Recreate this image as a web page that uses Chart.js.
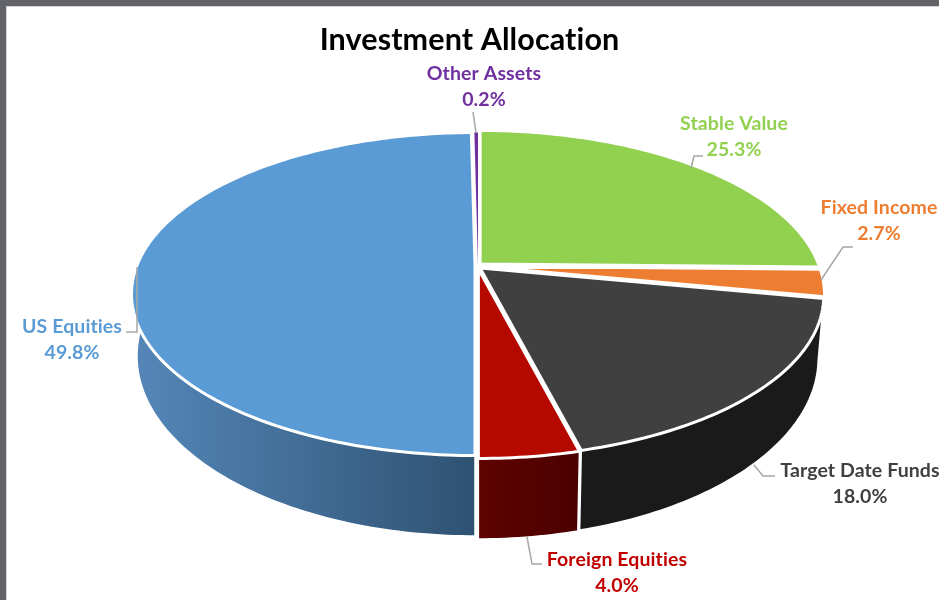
<!DOCTYPE html>
<html>
<head>
<meta charset="utf-8">
<style>
html,body{margin:0;padding:0;background:#fff;width:939px;height:600px;overflow:hidden}
#frame{position:absolute;left:0;top:0;width:939px;height:600px;box-sizing:border-box;border-top:6px solid #636469;border-left:6px solid #636469}
#inner{width:100%;height:100%;box-sizing:border-box;border-top:1px solid #d4d4d6;border-left:1px solid #d4d4d6}
canvas{position:absolute;left:0;top:0}
</style>
<script src="https://cdn.jsdelivr.net/npm/chart.js@4"></script>
</head>
<body>
<div id="frame"><div id="inner"></div></div>
<canvas id="c" width="939" height="600"></canvas>
<script>
const categories = ['Stable Value','Fixed Income','Target Date Funds','Foreign Equities','US Equities','Other Assets'];
const allocation = [25.3,2.7,18.0,4.0,49.8,0.2];
const faceColors = ['#92d050','#ed7d31','#404040','#b50900','#5b9bd5','#7030a0'];
const labelColors = ['#92d050','#ed7d31','#404040','#c00000','#5b9bd5','#7030a0'];

// Projection of the pie disc (tilted, with perspective) and its lower rim
const TOP = {cx:478, cy:294, a:343.5, b:161.5};
const BOTTOM = {cx:478, cy:356, a:338, b:180};
const K = -0.173;
const EXPLODE = 3;
const WALL_FROM = 95*Math.PI/180, WALL_TO = 278*Math.PI/180;
const WALL_STOPS = {
  2:['#1a1a1a','#1a1a1a'],
  3:['#5e0300','#4b0000'],
  4:['#5487b9','#2f5272']
};
// Label centres and leader lines
const labelBoxes = [
  {x:734,y:124,leader:[[703,156],[694,156],[691,168]]},
  {x:879,y:208,leader:[[853,247],[843,247],[821,280]]},
  {x:860,y:471,leader:[[775,476],[763,476],[754,465]]},
  {x:617,y:560,leader:[[542,564],[532,564],[527,537]]},
  {x:72,y:327,leader:[[126,332],[137,332],[137,267]]},
  {x:484,y:74,leader:[[473,112],[476,133]]}
];
const LABEL_FONT = 'bold 19.5px Lato, Carlito, sans-serif';

function project(geo, theta, r, off){
  const u = r*Math.sin(theta), v = -r*Math.cos(theta);
  const d = 1 + K*v;
  const X = u*Math.sqrt(1-K*K)/d, Y = (v+K)/d;
  return [geo.cx + geo.a*X + off[0], geo.cy + geo.b*Y + off[1]];
}
function sample(geo, t0, t1, off){
  const n = Math.max(2, Math.ceil(Math.abs(t1-t0)/(Math.PI/180)));
  const pts = [];
  for(let i=0;i<=n;i++) pts.push(project(geo, t0+(t1-t0)*i/n, 1, off));
  return pts;
}
function trace(ctx, pts, close){
  ctx.beginPath();
  pts.forEach((p,i)=> i?ctx.lineTo(p[0],p[1]):ctx.moveTo(p[0],p[1]));
  if(close) ctx.closePath();
}

const pie3d = {
  id:'pie3d',
  beforeDraw(chart){ chart.ctx.letterSpacing = '0.1px'; },
  beforeDatasetsDraw(chart){
    const ctx = chart.ctx, arcs = chart.getDatasetMeta(0).data;
    const slices = arcs.map((arc,i)=>{
      const t0 = arc.startAngle + Math.PI/2, t1 = arc.endAngle + Math.PI/2, mid=(t0+t1)/2;
      const e = i===5 ? 0 : EXPLODE;
      return {i,t0,t1,off:[e*Math.sin(mid), -e*Math.cos(mid)]};
    });
    ctx.save();
    ctx.lineJoin = 'round';
    // side walls: far side first, nearest last
    [4,2,3].forEach(i=>{
      const s = slices[i];
      const a = Math.max(s.t0, WALL_FROM), b = Math.min(s.t1, WALL_TO);
      const up = sample(TOP,a,b,s.off), low = sample(BOTTOM,a,b,s.off);
      const xs = up.concat(low).map(p=>p[0]);
      const g = ctx.createLinearGradient(Math.min(...xs),0,Math.max(...xs),0);
      g.addColorStop(0,WALL_STOPS[i][0]); g.addColorStop(1,WALL_STOPS[i][1]);
      trace(ctx, up.concat(low.reverse()), true);
      ctx.fillStyle = g; ctx.fill();
      ctx.strokeStyle = '#fff'; ctx.lineWidth = 1.5; ctx.stroke();
    });
    // top faces
    slices.forEach(s=>{
      const c = project(TOP,0,0,s.off);
      const rim = sample(TOP,s.t0,s.t1,s.off);
      trace(ctx,[c].concat(rim),true);
      ctx.fillStyle = faceColors[s.i]; ctx.fill();
      if(s.i!==5){ ctx.strokeStyle='#fff'; ctx.lineWidth=3; ctx.stroke(); }
    });
    // labels and leaders
    ctx.strokeStyle='#a6a6a6'; ctx.lineWidth=1.5; ctx.lineJoin='miter';
    labelBoxes.forEach(l=>{ trace(ctx,l.leader,false); ctx.stroke(); });
    ctx.font = LABEL_FONT; ctx.textAlign='center'; ctx.textBaseline='middle';
    categories.forEach((name,i)=>{
      ctx.fillStyle = labelColors[i];
      ctx.fillText(name, labelBoxes[i].x, labelBoxes[i].y);
      ctx.fillText(allocation[i].toFixed(1)+'%', labelBoxes[i].x, labelBoxes[i].y+26);
    });
    ctx.restore();
    return false;
  }
};

new Chart(document.getElementById('c'),{
  type:'pie',
  data:{labels:categories,datasets:[{data:allocation,backgroundColor:faceColors}]},
  options:{
    responsive:false,animation:false,
    plugins:{
      legend:{display:false},
      tooltip:{enabled:false},
      title:{display:true,text:'Investment Allocation',color:'#000',
        font:{family:'Lato, Carlito, sans-serif',size:30.5,weight:'bold'},
        padding:{top:22,bottom:10}}
    }
  },
  plugins:[pie3d]
});
</script>
</body>
</html>
